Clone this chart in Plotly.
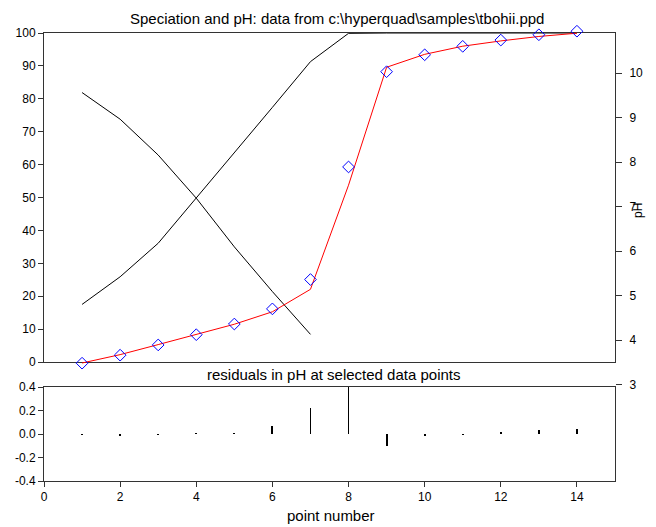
import plotly.graph_objects as go

# Titration points
point_number = [1, 2, 3, 4, 5, 6, 7, 8, 9, 10, 11, 12, 13, 14]

# Observed pH at each point
ph_observed = [3.48, 3.66, 3.89, 4.12, 4.36, 4.70, 5.36, 7.89, 10.03, 10.41, 10.60, 10.74, 10.86, 10.94]

# Residuals (observed - calculated) in pH
ph_residual = [-0.004, -0.012, -0.008, 0.002, 0.005, 0.065, 0.22, 0.41, -0.10, -0.010, -0.003, 0.018, 0.038, 0.045]

# Species distribution (% of total)
species_a_points = [1, 2, 3, 4, 5, 6, 7]
species_a_pct = [81.9, 73.8, 62.9, 49.8, 35.0, 21.4, 8.4]
species_b_pct = [17.5, 25.9, 36.1, 49.8, 63.4, 77.4, 91.3, 99.9, 100, 100, 100, 100, 100, 100]

ph_calculated = [o - r for o, r in zip(ph_observed, ph_residual)]

FONT = "Liberation Sans, Arial, sans-serif"
AXIS_COLOR = "#333333"

fig = go.Figure()

# Species curves (left axis, %)
fig.add_trace(go.Scatter(x=species_a_points, y=species_a_pct, mode="lines",
                         line=dict(color="black", width=1), xaxis="x", yaxis="y"))
fig.add_trace(go.Scatter(x=point_number, y=species_b_pct, mode="lines",
                         line=dict(color="black", width=1), xaxis="x", yaxis="y"))

# Calculated pH (red line) and observed pH (blue diamonds), right axis
fig.add_trace(go.Scatter(x=point_number, y=ph_calculated, mode="lines",
                         line=dict(color="#ff0000", width=1), xaxis="x", yaxis="y3"))
fig.add_trace(go.Scatter(x=point_number, y=ph_observed, mode="markers",
                         marker=dict(symbol="diamond-open", size=9, color="#0000ff",
                                     line=dict(width=1, color="#0000ff")),
                         cliponaxis=False, xaxis="x", yaxis="y3"))

# Residual sticks
fig.add_trace(go.Bar(x=point_number, y=ph_residual, width=0.022,
                     marker=dict(color="black", line=dict(width=0)),
                     xaxis="x2", yaxis="y2"))

top_domain = [0.2627, 0.98896]
bottom_domain = [0.0, 0.2075]

common = dict(showgrid=False, zeroline=False, linecolor=AXIS_COLOR, linewidth=1,
              tickcolor=AXIS_COLOR, tickfont=dict(family=FONT, size=12, color="black"))

fig.update_layout(
    width=656, height=527,
    margin=dict(l=44, r=41, t=28, b=46),
    paper_bgcolor="white", plot_bgcolor="rgba(0,0,0,0)",
    showlegend=False,
    bargap=0,
    xaxis=dict(domain=[0, 1], range=[0, 15], anchor="y", showticklabels=False,
               ticks="", showline=True, mirror=True, **common),
    yaxis=dict(domain=top_domain, range=[0, 100], anchor="x", dtick=10,
               ticks="outside", ticklen=5, showline=True, mirror=True, **common),
    yaxis3=dict(domain=[0.2097, 1.0], range=[2.967, 11.012], anchor="x", side="right",
                tickvals=[3, 4, 5, 6, 7, 8, 9, 10], ticks="outside", ticklen=6,
                ticklabelstandoff=5, showline=False, **common),
    xaxis2=dict(domain=[0, 1], range=[0, 15], anchor="y2",
                tickvals=[0, 2, 4, 6, 8, 10, 12, 14], ticks="outside", ticklen=5,
                showline=True, mirror=True, **common),
    yaxis2=dict(domain=bottom_domain, range=[-0.4, 0.4], anchor="x2",
                tickvals=[-0.4, -0.2, 0.0, 0.2, 0.4],
                ticktext=["-0.4", "-0.2", "0.0", "0.2", "0.4"],
                ticks="outside", ticklen=5, showline=True, mirror=True, **common),
    annotations=[
        dict(text="Speciation and pH: data from c:\\hyperquad\\samples\\tbohii.ppd",
             xref="paper", yref="paper", x=0.514, y=1.0199, showarrow=False,
             font=dict(family=FONT, size=15, color="black"), xanchor="center", yanchor="middle"),
        dict(text="residuals in pH at selected data points",
             xref="paper", yref="paper", x=0.507, y=0.2362, showarrow=False,
             font=dict(family=FONT, size=15, color="black"), xanchor="center", yanchor="middle"),
        dict(text="point number",
             xref="paper", yref="paper", x=0.502, y=-0.076, showarrow=False,
             font=dict(family=FONT, size=15, color="black"), xanchor="center", yanchor="middle"),
        dict(text="pH", textangle=-90,
             xref="paper", yref="paper", x=1.0403, y=0.596, showarrow=False,
             font=dict(family=FONT, size=12, color="black"), xanchor="center", yanchor="middle"),
    ],
)

fig.write_html("out.html")
